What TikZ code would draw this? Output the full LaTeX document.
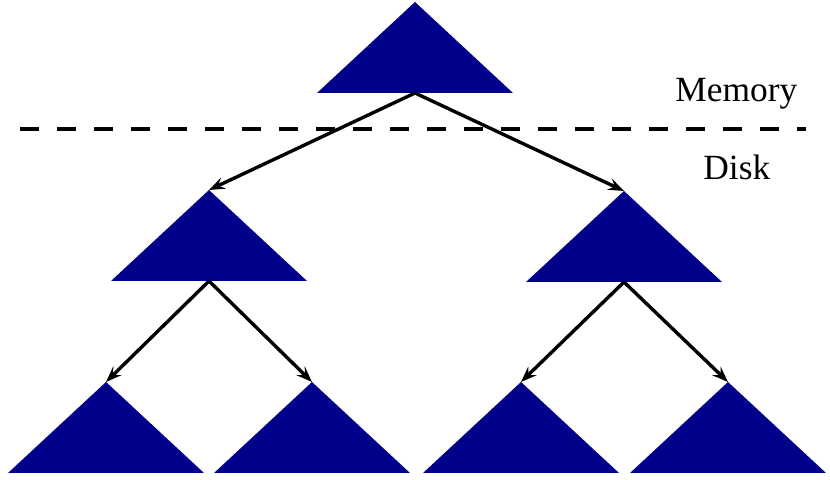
\documentclass[tikz,border=0pt]{standalone}
\usepackage{fontspec}
\setmainfont{Liberation Serif}
\usetikzlibrary{arrows.meta}
\definecolor{treeblue}{RGB}{0,0,139}
\newcommand{\subtree}[3]{%
	\coordinate (#1) at (#2,#3);
	\coordinate (#1b) at (#2,#3+91);
	\fill [treeblue] (#1) -- ++(98,91) -- ++(-196,0) -- cycle;
}

\begin{document}
\begin{tikzpicture}[x=0.5pt,y=-0.5pt]
	\tikzstyle{link}=[black,line width=1.7pt,-{Stealth[length=8pt,width=6pt,inset=3pt]}]
	\tikzstyle{label}=[anchor=base west,inner sep=0pt,font=\fontsize{17.7}{20}\selectfont]
	\useasboundingbox (0,0) rectangle (830,480);
	\subtree{root}{415}{2}
	\subtree{l}{209}{190}
	\subtree{r}{624}{191}
	\subtree{ll}{106}{382}
	\subtree{lr}{312}{382}
	\subtree{rl}{521}{382}
	\subtree{rr}{728}{382}
	\coordinate (cutw) at (20,129);
	\coordinate (cute) at (806,129);
	\draw [black,line width=2pt,dash pattern=on 9.5pt off 9pt] (cutw) -- (cute);
	\draw [link] (rootb) -- (l);
	\draw [link] (rootb) -- (r);
	\draw [link] (lb) -- (ll);
	\draw [link] (lb) -- (lr);
	\draw [link] (rb) -- (rl);
	\draw [link] (rb) -- (rr);
	\node [label] (mem) at (675,102) {Memory};
	\node [label] (disk) at (703,180) {Disk};
\end{tikzpicture}
\end{document}
